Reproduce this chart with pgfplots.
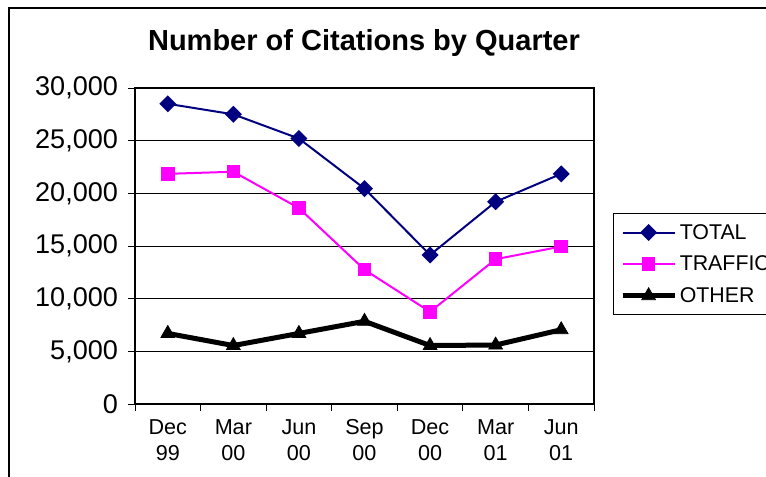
\documentclass[border=0pt]{standalone}
\usepackage{fontspec}
\setmainfont{Liberation Sans}
\usepackage{pgfplots}
\pgfplotsset{compat=1.18}
\definecolor{navyblue}{RGB}{0,0,128}
\definecolor{magentapink}{RGB}{255,0,255}
\begin{document}
\begin{tikzpicture}[x=0.75pt,y=0.75pt]
\path[use as bounding box] (-135,-73) rectangle (631,404);
\clip (-135,-73) rectangle (631,404);
\draw[line width=1.1pt] (-126,-200) -- (-126,396) -- (800,396);
\begin{axis}[
  at={(0,0)}, anchor=south west,
  scale only axis, width=344.25pt, height=237pt,
  xmin=-0.5, xmax=6.5, ymin=0, ymax=30000,
  clip=false,
  axis line style={line width=1.6pt, black},
  xtick={0,...,6},
  xticklabels={{Dec\\99},{Mar\\00},{Jun\\00},{Sep\\00},{Dec\\00},{Mar\\01},{Jun\\01}},
  xticklabel style={align=center, font=\fontsize{16.2}{19.5}\selectfont, yshift=-3pt},
  major x tick style={draw=none},
  minor xtick={-0.5,0.5,...,6.5},
  minor x tick style={black, line width=0.6pt},
  minor tick length=5.25pt,
  ytick={0,5000,...,30000},
  major tick length=5.25pt,
  y tick style={black, line width=0.6pt},
  tick align=outside, tick pos=left,
  scaled y ticks=false,
  /pgf/number format/1000 sep={,},
  /pgf/number format/assume math mode=true,
  yticklabel style={font=\fontsize{20.3}{23}\selectfont, xshift=-4pt},
  ymajorgrids, grid style={black, line width=0.6pt},
  legend style={at={(1.0414,0.6044)}, anchor=north west, draw=black, line width=0.7pt,
    font=\fontsize{16}{18}\selectfont, row sep=7pt, inner xsep=5pt, inner ysep=6pt,
    legend cell align=left},
  legend image code/.code={\draw[mark repeat=2, mark phase=2] plot coordinates {(0pt,0pt) (19.5pt,0pt) (39pt,0pt)};},
]
\addplot[navyblue, line width=1.5pt, mark=square*, mark size=3.75pt, mark options={rotate=45, solid}]
  coordinates {(0,28500) (1,27500) (2,25200) (3,20450) (4,14150) (5,19200) (6,21850)};
\addlegendentry{TOTAL}
\addplot[magentapink, line width=1.5pt, mark=square*, mark size=4.3pt, mark options={solid}]
  coordinates {(0,21850) (1,22050) (2,18600) (3,12750) (4,8750) (5,13750) (6,14950)};
\addlegendentry{TRAFFIC}
\addplot[black, line width=3.75pt, mark=triangle*, mark size=6pt, mark options={solid, line width=0.5pt}]
  coordinates {(0,6700) (1,5550) (2,6700) (3,7850) (4,5550) (5,5600) (6,7050)};
\addlegendentry{OTHER}
\end{axis}
\node[font=\fontsize{21.75}{26}\selectfont\bfseries] at (229,361) {Number of Citations by Quarter};
\end{tikzpicture}
\end{document}
